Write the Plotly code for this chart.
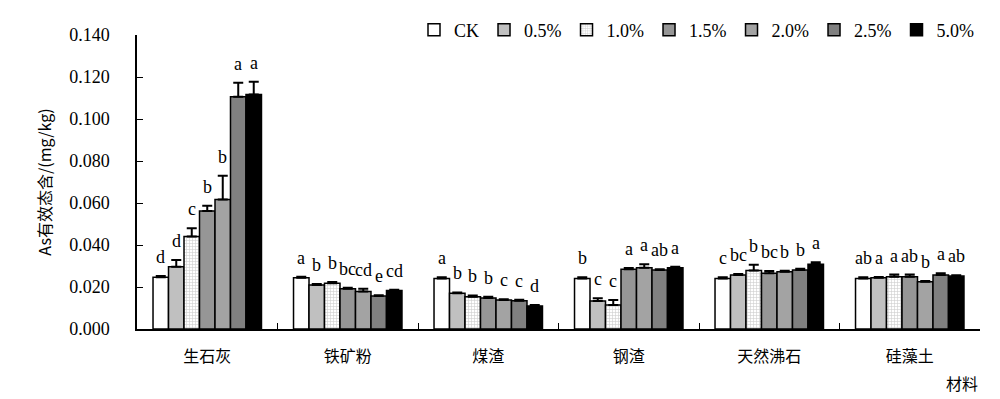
import plotly.graph_objects as go

categories = ["生石灰", "铁矿粉", "煤渣", "钢渣", "天然沸石", "硅藻土"]
series_names = ["CK", "0.5%", "1.0%", "1.5%", "2.0%", "2.5%", "5.0%"]

ck      = [0.0246, 0.0244, 0.0241, 0.0241, 0.0241, 0.0241]
p05     = [0.0297, 0.0210, 0.0170, 0.0133, 0.0257, 0.0244]
p10     = [0.0440, 0.0218, 0.0154, 0.0114, 0.0278, 0.0249]
p15     = [0.0562, 0.0192, 0.0148, 0.0284, 0.0265, 0.0249]
p20     = [0.0617, 0.0178, 0.0138, 0.0292, 0.0273, 0.0225]
p25     = [0.1106, 0.0157, 0.0135, 0.0281, 0.0281, 0.0257]
p50     = [0.1117, 0.0183, 0.0110, 0.0292, 0.0308, 0.0252]

err_ck  = [0.0006, 0.0005, 0.0006, 0.0006, 0.0006, 0.0006]
err_05  = [0.0032, 0.0004, 0.0004, 0.0013, 0.0005, 0.0004]
err_10  = [0.0040, 0.0006, 0.0006, 0.0024, 0.0028, 0.0010]
err_15  = [0.0025, 0.0004, 0.0006, 0.0006, 0.0011, 0.0010]
err_20  = [0.0113, 0.0014, 0.0004, 0.0016, 0.0004, 0.0004]
err_25  = [0.0067, 0.0004, 0.0004, 0.0004, 0.0006, 0.0008]
err_50  = [0.0060, 0.0004, 0.0004, 0.0004, 0.0010, 0.0004]

letters_ck = ["d", "a", "a", "b", "c", "ab"]
letters_05 = ["d", "b", "b", "c", "bc", "a"]
letters_10 = ["c", "b", "b", "c", "b", "a"]
letters_15 = ["b", "bc", "b", "a", "bc", "ab"]
letters_20 = ["b", "cd", "c", "a", "b", "b"]
letters_25 = ["a", "e", "c", "ab", "b", "a"]
letters_50 = ["a", "cd", "d", "a", "a", "ab"]

values = [ck, p05, p10, p15, p20, p25, p50]
errors = [err_ck, err_05, err_10, err_15, err_20, err_25, err_50]
letters = [letters_ck, letters_05, letters_10, letters_15, letters_20, letters_25, letters_50]

styles = [
    dict(color="white"),
    dict(color="#c0c0c0"),
    dict(color="white", pattern=dict(shape="+", fgcolor="#9a9a9a", bgcolor="white", size=3, solidity=0.35)),
    dict(color="#969696"),
    dict(color="#a0a0a0", pattern=dict(shape=".", fgcolor="#202020", bgcolor="#c8c8c8", size=2, solidity=0.5)),
    dict(color="#808080"),
    dict(color="black"),
]

SERIF = "Liberation Serif, Times New Roman, serif"
CJK = "Noto Sans CJK SC, sans-serif"

bargap = 0.228
bw = (1 - bargap) / len(series_names)

fig = go.Figure()
for j, name in enumerate(series_names):
    fig.add_trace(go.Bar(
        name=name,
        x=categories,
        y=values[j],
        marker=dict(line=dict(color="black", width=1.5), **styles[j]),
        error_y=dict(type="data", array=errors[j], arrayminus=[0]*len(categories),
                     symmetric=False, color="black", thickness=2, width=5),
    ))

annotations = []
for j in range(len(series_names)):
    for i in range(len(categories)):
        annotations.append(dict(
            x=i + (j - 3) * bw, y=values[j][i] + errors[j][i],
            xref="x", yref="y", text=letters[j][i], showarrow=False,
            yanchor="middle", yshift=19,
            font=dict(family=SERIF, size=18, color="black"),
        ))
annotations.append(dict(
    x=1.0, y=-0.184, xref="paper", yref="paper", text="材料", showarrow=False,
    xanchor="right", yanchor="middle", font=dict(family=CJK, size=16, color="black"),
))

fig.update_layout(
    width=1000, height=399,
    margin=dict(l=129, r=28, t=27, b=78, autoexpand=False),
    plot_bgcolor="white", paper_bgcolor="white",
    barmode="group", bargap=bargap, bargroupgap=0,
    font=dict(family=SERIF, size=16, color="black"),
    legend=dict(orientation="h", x=1.0, xanchor="right", y=1.017, yanchor="middle",
                font=dict(family=SERIF, size=18), bgcolor="rgba(0,0,0,0)",
                traceorder="normal", itemwidth=30),
    annotations=annotations,
    showlegend=True,
)
fig.update_xaxes(
    showline=True, linecolor="black", linewidth=1.5, automargin=False,
    ticks="inside", ticklen=6, tickcolor="black", tickson="boundaries",
    tickfont=dict(family=CJK, size=16), showgrid=False, zeroline=False,
    ticklabelstandoff=12,
)
fig.update_yaxes(
    range=[0, 0.14], dtick=0.02, tickformat=".3f", automargin=False,
    showline=True, linecolor="black", linewidth=1.5,
    ticks="inside", ticklen=6, tickcolor="black",
    tickfont=dict(family=SERIF, size=18), showgrid=False, zeroline=False,
    ticklabelstandoff=22,
    title=dict(text="As有效态含/(mg/kg)", font=dict(family=CJK, size=16), standoff=14),
)

fig.write_html("out.html")
